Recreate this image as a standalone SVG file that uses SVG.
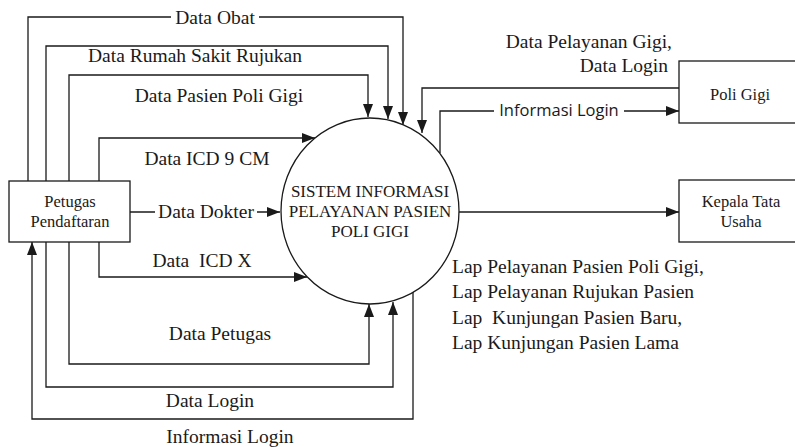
<svg xmlns="http://www.w3.org/2000/svg" width="795" height="447" viewBox="0 0 795 447">
<style>
.ln{fill:none;stroke:#1a1a1a;stroke-width:1.3}
.box{fill:#fff;stroke:#1a1a1a;stroke-width:1.3}
.t{font-family:"Liberation Serif","Times New Roman",serif;font-size:19.5px;fill:#1a1a1a}
.tb{font-family:"Liberation Serif","Times New Roman",serif;font-size:16.5px;fill:#1a1a1a;text-anchor:middle}
.ts{font-family:"Open Sans","Noto Sans",sans-serif;font-size:16.5px;fill:#1a1a1a;text-anchor:middle}
.m{text-anchor:middle}
.e{text-anchor:end}
.bg{fill:#fff;stroke:none}
</style>
<defs>
<marker id="arr" markerWidth="13" markerHeight="10" refX="13" refY="5" orient="auto" markerUnits="userSpaceOnUse">
<path d="M0,0 L13,5 L0,10 Z" fill="#1a1a1a"/>
</marker>
</defs>
<g id="connectors">
<path class="ln" d="M28,181 V17 H403 V125" marker-end="url(#arr)"/>
<path class="ln" d="M46,181 V46 H388 V119" marker-end="url(#arr)"/>
<path class="ln" d="M69,181 V75 H368 V117" marker-end="url(#arr)"/>
<path class="ln" d="M679,88 H422 V133" marker-end="url(#arr)"/>
<path class="ln" d="M440,153 V111 H679" marker-end="url(#arr)"/>
<path class="ln" d="M99,181 V138 H315" marker-end="url(#arr)"/>
<path class="ln" d="M130,212 H280" marker-end="url(#arr)"/>
<path class="ln" d="M99,242 V277 H307" marker-end="url(#arr)"/>
<path class="ln" d="M69,242 V364 H369 V304" marker-end="url(#arr)"/>
<path class="ln" d="M46,242 V387 H393 V302" marker-end="url(#arr)"/>
<path class="ln" d="M413,292 V419 H32 V242" marker-end="url(#arr)"/>
<path class="ln" d="M459,212 H679" marker-end="url(#arr)"/>
<rect class="bg" x="171" y="8" width="88" height="20"/>
<rect class="bg" x="155" y="202" width="102" height="20"/>
<rect class="bg" x="494" y="100" width="130" height="20"/>
<text class="t m" x="215" y="24">Data Obat</text>
<text class="t m" x="195" y="62">Data Rumah Sakit Rujukan</text>
<text class="t m" x="219" y="102">Data Pasien Poli Gigi</text>
<text class="t m" x="207" y="165">Data ICD 9 CM</text>
<text class="t m" x="206" y="218">Data Dokter</text>
<text class="t m" x="202" y="267" style="white-space:pre">Data  ICD X</text>
<text class="t m" x="220" y="340">Data Petugas</text>
<text class="t m" x="210" y="407">Data Login</text>
<text class="t m" x="230" y="443">Informasi Login</text>
<text class="t e" x="672" y="48">Data Pelayanan Gigi,</text>
<text class="t e" x="668" y="72">Data Login</text>
<text class="ts" x="559" y="116">Informasi Login</text>
<text class="t" x="452" y="273">Lap Pelayanan Pasien Poli Gigi,</text>
<text class="t" x="452" y="298">Lap Pelayanan Rujukan Pasien</text>
<text class="t" x="452" y="324" style="white-space:pre">Lap  Kunjungan Pasien Baru,</text>
<text class="t" x="452" y="349">Lap Kunjungan Pasien Lama</text>
</g>
<g id="petugas">
<rect class="box" x="9" y="181" width="121" height="61"/>
<text class="tb" x="70" y="207">Petugas</text>
<text class="tb" x="70" y="227">Pendaftaran</text>
</g>
<g id="sistem">
<ellipse class="box" cx="370" cy="211" rx="89" ry="93"/>
<text class="tb" x="370" y="197" style="font-size:17px">SISTEM INFORMASI</text>
<text class="tb" x="370" y="217" style="font-size:17px">PELAYANAN PASIEN</text>
<text class="tb" x="370" y="237" style="font-size:17px">POLI GIGI</text>
</g>
<g id="poligigi">
<rect class="box" x="679" y="61" width="122" height="62"/>
<text class="tb" x="740" y="100">Poli Gigi</text>
</g>
<g id="kepala">
<rect class="box" x="679" y="180" width="124" height="62"/>
<text class="tb" x="741" y="207">Kepala Tata</text>
<text class="tb" x="741" y="227">Usaha</text>
</g>
</svg>
